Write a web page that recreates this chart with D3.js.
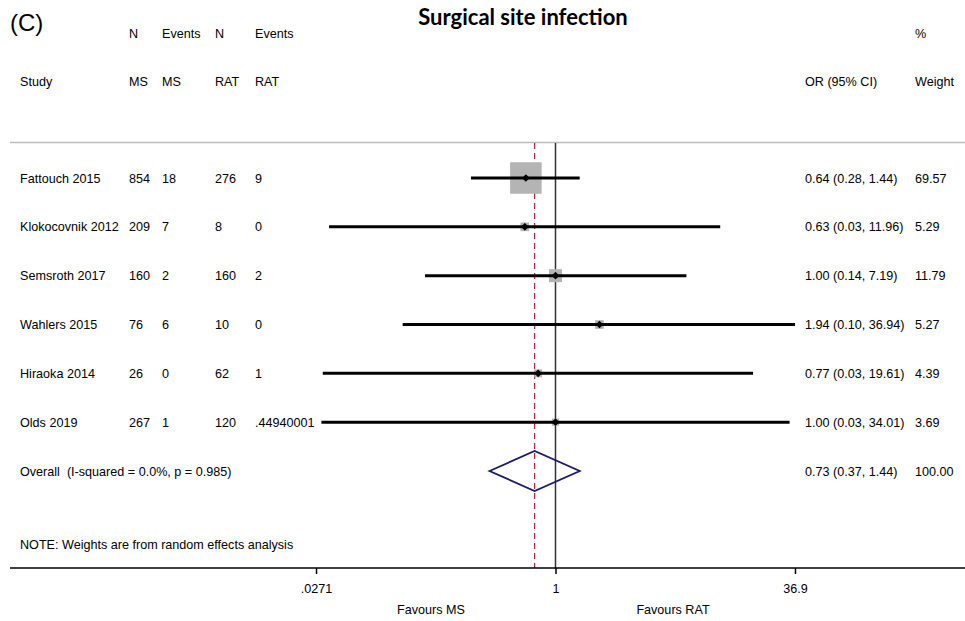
<!DOCTYPE html>
<html>
<head>
<meta charset="utf-8" />
<title>Surgical site infection</title>
<style>
html, body {
    margin: 0px;
    padding: 0px;
    background: #fff;
}
svg {
    display: block;
    font-family: "Liberation Sans", Arial, sans-serif;
}
text {
    white-space: pre;
}
</style>
</head>
<body>
<svg id="chart" width="965" height="621"></svg>

<script src="https://d3js.org/d3.v7.min.js"></script>
<script>
// study rows
var studies = ["Fattouch 2015", "Klokocovnik 2012", "Semsroth 2017", "Wahlers 2015", "Hiraoka 2014", "Olds 2019"]
var nMS = [854, 209, 160, 76, 26, 267]
var eventsMS = [18, 7, 2, 6, 0, 1]
var nRAT = [276, 8, 160, 10, 62, 120]
var eventsRAT = ["9", "0", "2", "0", "1", ".44940001"]
var oddsRatio = [0.64, 0.63, 1.00, 1.94, 0.77, 1.00]
var ciLow = [0.28, 0.033, 0.14, 0.10, 0.03, 0.0294]
var ciHigh = [1.44, 11.96, 7.19, 36.94, 19.61, 34.01]
var weights = [69.57, 5.29, 11.79, 5.27, 4.39, 3.69]

// pooled estimate
var overallOR = 0.73
var overallLow = 0.37
var overallHigh = 1.44
var overallLabel = "Overall  (I-squared = 0.0%, p = 0.985)"

var tickValues = [0.0271, 1, 36.9]
var tickLabels = [".0271", "1", "36.9"]

var svg = d3.select("#chart")
var f2 = d3.format(".2f")
var fs = "12.6px"

var x = d3.scaleLog().domain([0.0271, 36.9]).range([316, 795])
var y = d3.scalePoint().domain(d3.range(studies.length + 1)).range([178, 471])
var boxSide = d3.scaleSqrt().domain([0, 100]).range([0, 37.8])

var plotTop = 143, plotBottom = 568

// headers
svg.append("text").attr("x", 10).attr("y", 31).style("font-size", "24px").text("(C)")
svg.append("text").attr("x", 523).attr("y", 25)
    .attr("text-anchor", "middle")
    .style("font-family", "Lato, 'Open Sans', sans-serif")
    .style("font-weight", "bold")
    .style("font-size", "22px")
    .text("Surgical site infection")

var head1 = [["N", 129], ["Events", 162], ["N", 215], ["Events", 255], ["%", 915]]
var head2 = [["Study", 20], ["MS", 129], ["MS", 162], ["RAT", 215], ["RAT", 255], ["OR (95% CI)", 805], ["Weight", 915]]

svg.selectAll(".h1").data(head1).enter().append("text")
    .attr("class", "h1")
    .attr("x", function(d){ return d[1] })
    .attr("y", 38)
    .style("font-size", fs)
    .text(function(d){ return d[0] })

svg.selectAll(".h2").data(head2).enter().append("text")
    .attr("class", "h2")
    .attr("x", function(d){ return d[1] })
    .attr("y", 86)
    .style("font-size", fs)
    .text(function(d){ return d[0] })

// frame lines
svg.append("line").attr("x1", 10).attr("x2", 965).attr("y1", plotTop - 0.5).attr("y2", plotTop - 0.5)
    .attr("stroke", "#bbb").attr("stroke-width", 1.5)

svg.append("line").attr("x1", x(1)).attr("x2", x(1)).attr("y1", plotTop).attr("y2", plotBottom)
    .attr("stroke", "#333").attr("stroke-width", 1.5)

svg.append("line").attr("x1", x(overallOR)).attr("x2", x(overallOR)).attr("y1", plotTop).attr("y2", plotBottom)
    .attr("stroke", "#b5283c").attr("stroke-width", 1.3).attr("stroke-dasharray", "6,4")

// rows
var rows = svg.selectAll(".row").data(studies).enter().append("g")
    .attr("class", "row")
    .attr("transform", function(d, i){ return "translate(0," + y(i) + ")" })

var cols = [
    [function(d, i){ return d }, 20],
    [function(d, i){ return nMS[i] }, 129],
    [function(d, i){ return eventsMS[i] }, 162],
    [function(d, i){ return nRAT[i] }, 215],
    [function(d, i){ return eventsRAT[i] }, 255],
    [function(d, i){ return f2(oddsRatio[i]) + " (" + f2(ciLow[i]) + ", " + f2(ciHigh[i]) + ")" }, 805],
    [function(d, i){ return f2(weights[i]) }, 915]
]

cols.forEach(function(c){
    rows.append("text")
        .attr("x", c[1])
        .attr("y", 4.5)
        .style("font-size", fs)
        .text(c[0])
})

rows.append("rect")
    .attr("x", function(d, i){ return x(oddsRatio[i]) - boxSide(weights[i]) / 2 })
    .attr("y", function(d, i){ return -boxSide(weights[i]) / 2 })
    .attr("width", function(d, i){ return boxSide(weights[i]) })
    .attr("height", function(d, i){ return boxSide(weights[i]) })
    .attr("fill", "#b4b4b4")

rows.append("line")
    .attr("x1", function(d, i){ return x(ciLow[i]) })
    .attr("x2", function(d, i){ return x(ciHigh[i]) })
    .attr("y1", 0).attr("y2", 0)
    .attr("stroke", "#000").attr("stroke-width", 3)

rows.append("path")
    .attr("transform", function(d, i){ return "translate(" + x(oddsRatio[i]) + ",0) rotate(45)" })
    .attr("d", d3.symbol().type(d3.symbolSquare).size(30))
    .attr("fill", "#000")

// overall
var oy = y(studies.length)
svg.append("text").attr("x", 20).attr("y", oy + 4.5).style("font-size", fs).text(overallLabel)
svg.append("text").attr("x", 805).attr("y", oy + 4.5).style("font-size", fs)
    .text(f2(overallOR) + " (" + f2(overallLow) + ", " + f2(overallHigh) + ")")
svg.append("text").attr("x", 915).attr("y", oy + 4.5).style("font-size", fs).text("100.00")

svg.append("path")
    .attr("d", "M" + [x(overallLow), oy] + "L" + [x(overallOR), oy - 20] + "L" + [x(overallHigh), oy] + "L" + [x(overallOR), oy + 20] + "Z")
    .attr("fill", "none")
    .attr("stroke", "#1a1a72")
    .attr("stroke-width", 1.8)

svg.append("text").attr("x", 20).attr("y", 549).style("font-size", fs)
    .text("NOTE: Weights are from random effects analysis")

// axis
svg.append("line").attr("x1", 10).attr("x2", 965).attr("y1", plotBottom).attr("y2", plotBottom)
    .attr("stroke", "#000").attr("stroke-width", 1.5)

var xAxisCall = d3.axisBottom(x)
    .tickValues(tickValues)
    .tickFormat(function(d, i){ return tickLabels[i] })
    .tickSize(6)
    .tickPadding(10)

var ax = svg.append("g")
    .attr("class", "x axis")
    .attr("transform", "translate(0," + plotBottom + ")")
    .call(xAxisCall)

ax.select(".domain").remove()
ax.selectAll(".tick line").attr("stroke", "#000").attr("stroke-width", 1.5)
ax.selectAll(".tick text")
    .style("font-family", "'Liberation Sans', Arial, sans-serif")
    .style("font-size", fs)
    .attr("fill", "#000")

svg.append("text").attr("x", 431).attr("y", 614).attr("text-anchor", "middle")
    .style("font-size", fs).text("Favours MS")
svg.append("text").attr("x", 673).attr("y", 614).attr("text-anchor", "middle")
    .style("font-size", fs).text("Favours RAT")
</script>
</body>
</html>
